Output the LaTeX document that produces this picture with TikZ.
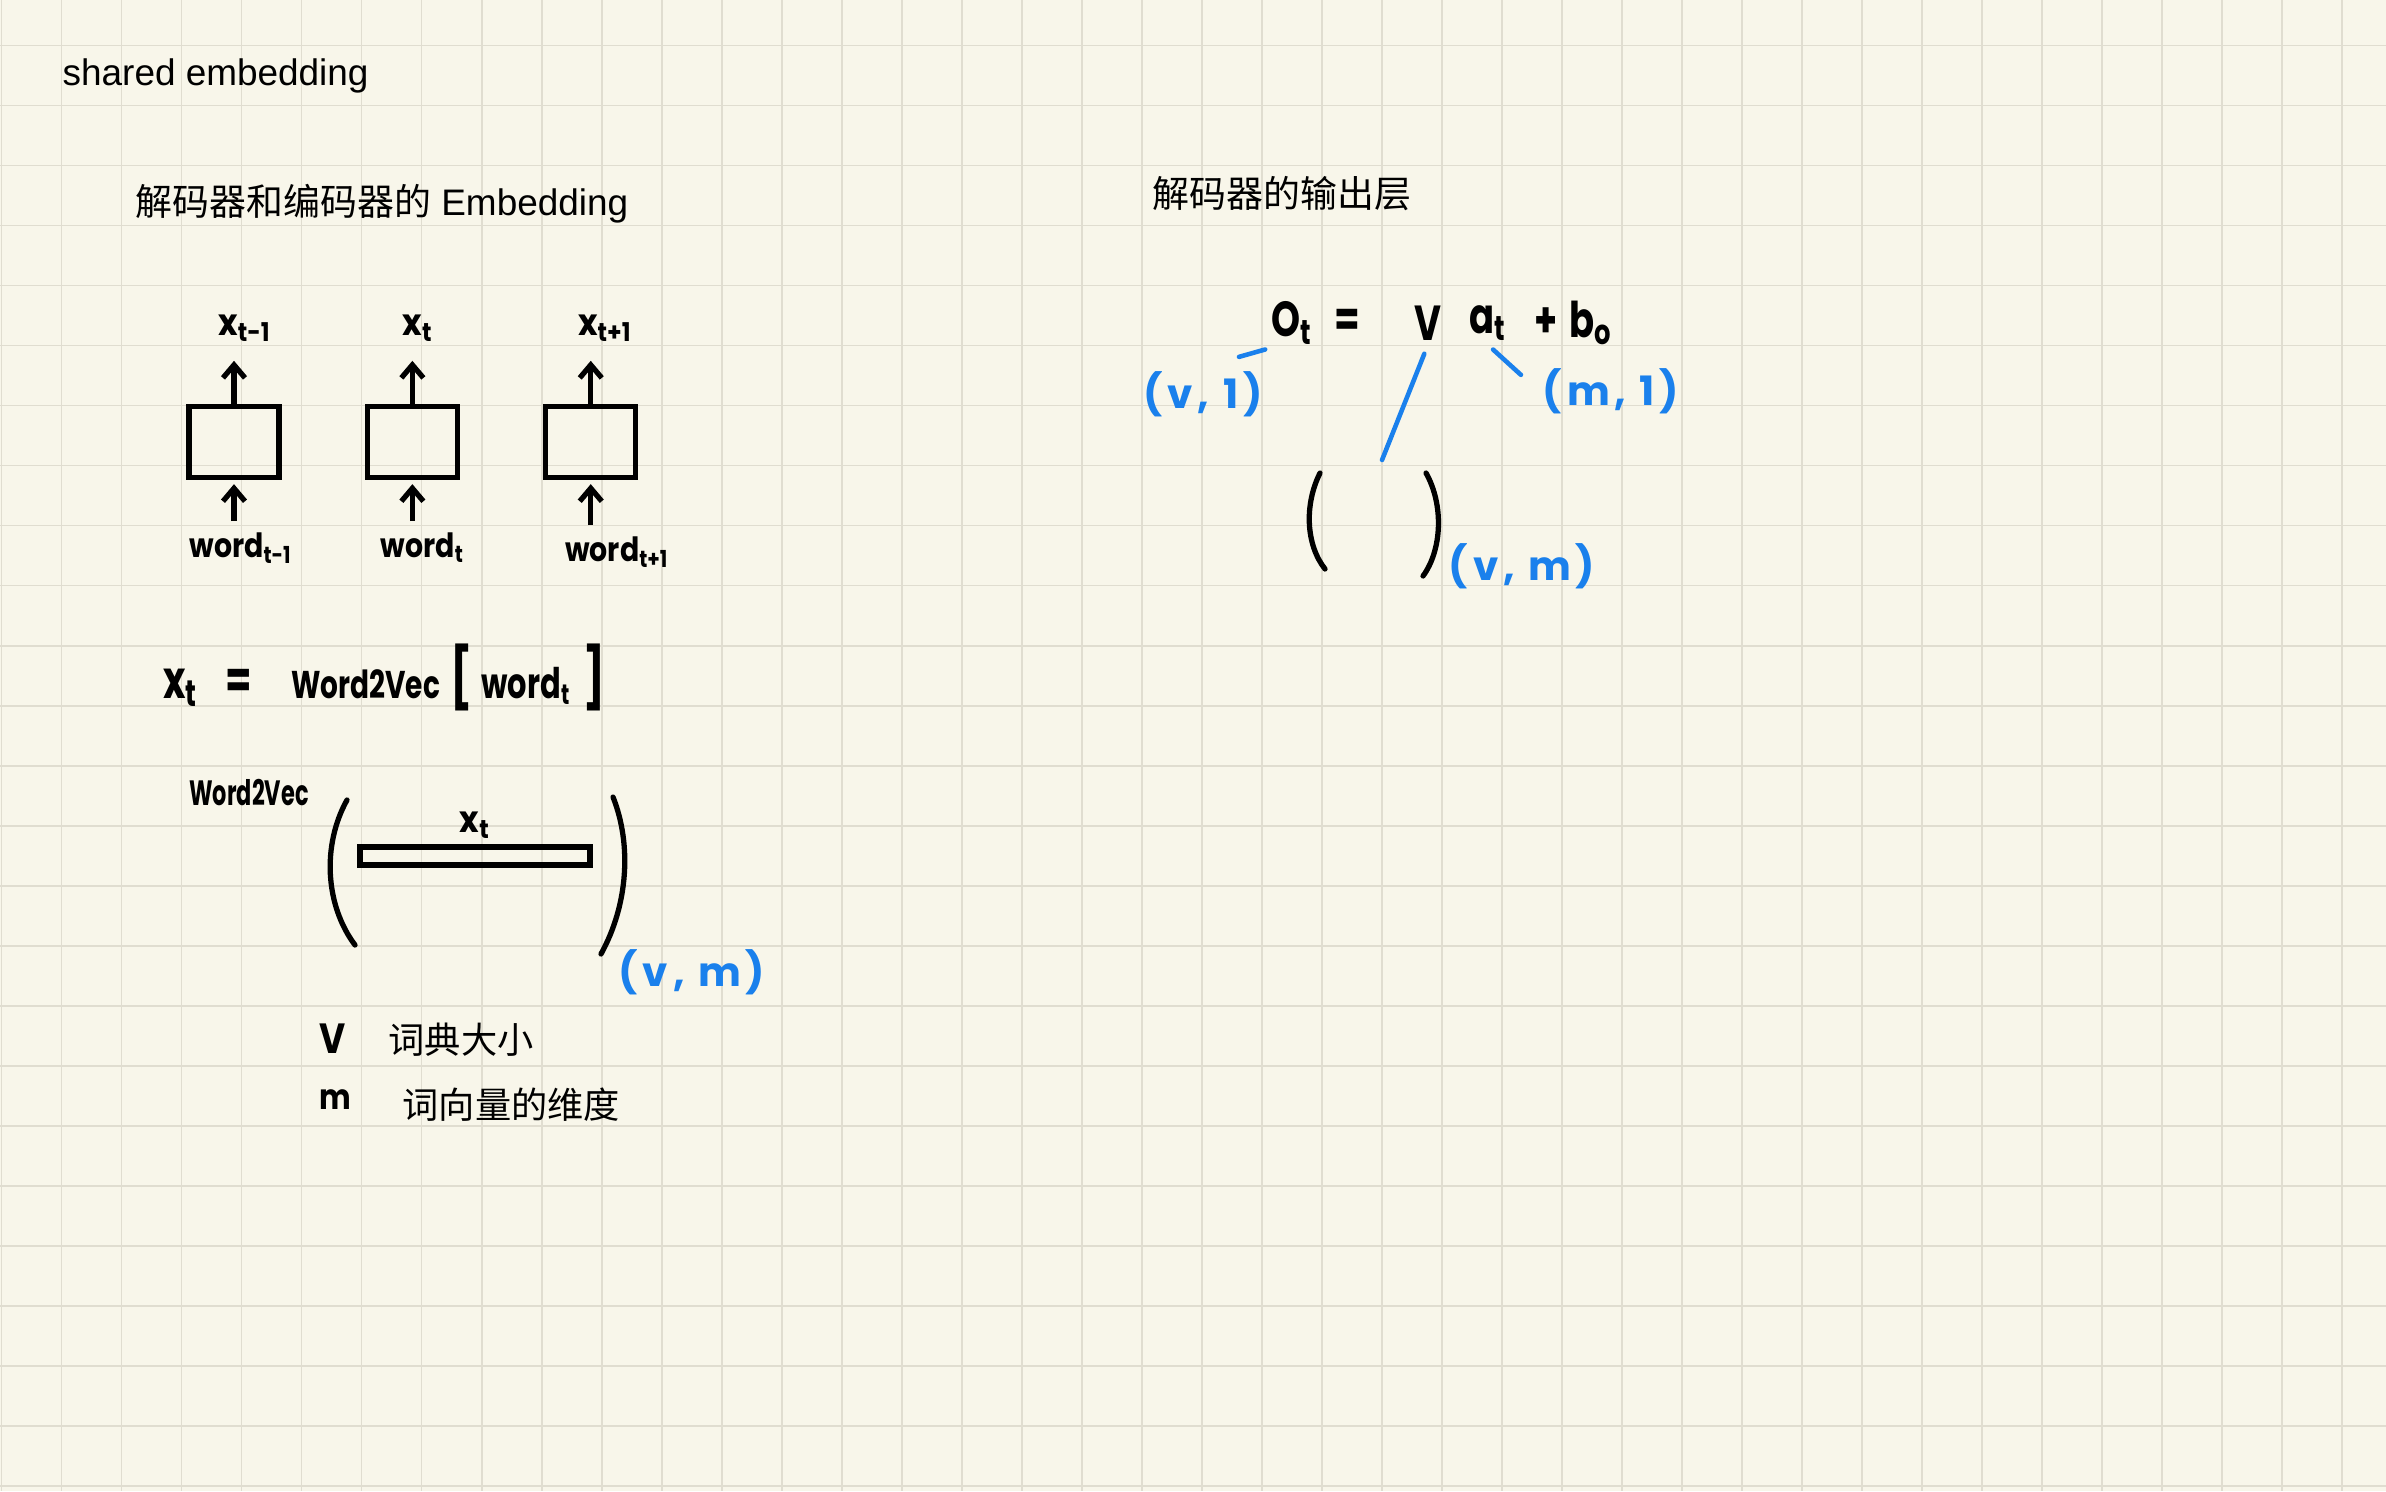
\documentclass[tikz,border=0pt]{standalone}
\usepackage{fontspec}
\setmainfont{Liberation Sans}
\newfontfamily\cjk{Noto Sans CJK SC}
\newfontfamily\handfont{Poppins}
\newfontfamily\dimfont{Poppins}[LetterSpace=12]
\usepackage{tikz}
\usetikzlibrary{positioning, calc, arrows.meta}
\definecolor{paper}{HTML}{F8F6EA}
\definecolor{gridline}{HTML}{E0DDD0}
\definecolor{inkblue}{HTML}{1A80EC}

\begin{document}
\begin{tikzpicture}[
  x=0.01cm, y=-0.01cm,
  node distance=0.5cm,
  cellbox/.style={draw, line width=1.5pt, minimum width=0.9cm, minimum height=0.71cm, inner sep=0pt},
  vecbox/.style={draw, line width=1.5pt, minimum width=2.3cm, minimum height=0.18cm, inner sep=0pt},
  heading/.style={anchor=west, inner sep=0pt, font=\fontsize{10.5}{13}\selectfont},
  note/.style={anchor=west, inner sep=0pt, font=\cjk\fontsize{10.3}{13}\selectfont},
  hand/.style={inner sep=1pt, font=\handfont\bfseries\fontsize{9.5}{11}\selectfont, xscale=0.85},
  xlabel/.style={inner sep=1pt, font=\handfont\bfseries\fontsize{10.5}{12}\selectfont, xscale=0.9},
  bighand/.style={inner sep=1pt, font=\handfont\bfseries\fontsize{14}{17}\selectfont, xscale=0.75},
  dim/.style={inner sep=1pt, text=inkblue, font=\dimfont\bfseries\fontsize{11.5}{13}\selectfont},
  arrow/.style={line width=1.5pt, -{Straight Barb[length=1.3mm, width=2.2mm]}},
  dimline/.style={inkblue, line width=1.3pt, line cap=round},
  paren/.style={line width=1.5pt, line cap=round},
]

  % Paper with grid
  \useasboundingbox (0,0) rectangle (2386,1491);
  \fill[paper] (0,0) rectangle (2386,1491);
  \foreach \k in {0,...,39} {
    \draw[gridline, line width=0.45pt] ({1.7+60*\k},0) -- ({1.7+60*\k},1491);
  }
  \foreach \k in {0,...,24} {
    \draw[gridline, line width=0.45pt] (0,{45.7+60*\k}) -- (2386,{45.7+60*\k});
  }

  % Headings
  \node (title) [heading] at (62,76) {shared embedding};
  \node (embtitle) [heading] at (135,204) {{\cjk 解码器和编码器的} Embedding};
  \node (outtitle) [heading] at (1152,194) {\cjk 解码器的输出层};

  % Embedding cells
  \node (box1) [cellbox] at (234,442) {};
  \node (box2) [cellbox, right=0.83cm of box1] {};
  \node (box3) [cellbox, right=0.83cm of box2] {};

  % Outputs above
  \node (xout1) [xlabel, above=0.58cm of box1, xshift=0.12cm] {x\textsubscript{t-1}};
  \node (xout2) [xlabel, above=0.58cm of box2, xshift=0.06cm] {x\textsubscript{t}};
  \node (xout3) [xlabel, above=0.58cm of box3, xshift=0.16cm] {x\textsubscript{t+1}};

  % Words below
  \node (word1) [hand, below=0.48cm of box1, xshift=0.08cm] {word\textsubscript{t-1}};
  \node (word2) [hand, below=0.48cm of box2, xshift=0.12cm] {word\textsubscript{t}};
  \node (word3) [hand, below=0.52cm of box3, xshift=0.31cm] {word\textsubscript{t+1}};

  \foreach \i in {1,2,3} {
    \draw [arrow] (box\i.north) -- ([yshift=-0.15cm]box\i.north |- xout\i.south);
    \draw [arrow] ([yshift=0.07cm]box\i.south |- word\i.north) -- ([yshift=-0.04cm]box\i.south);
  }

  % Lookup formula
  \node (lookup) [hand, anchor=west, font=\handfont\bfseries\fontsize{11}{13}\selectfont, xscale=0.85] at (160,677)
    {{\fontsize{15}{15}\selectfont x\textsubscript{t}}\hspace{0.38cm}{\fontsize{15}{15}\selectfont=}\hspace{0.55cm}Word2Vec\hspace{0.14cm}{\fontsize{17}{17}\selectfont[}\hspace{0.13cm}{\fontsize{12}{12}\selectfont word\textsubscript{t}}\hspace{0.18cm}{\fontsize{17}{17}\selectfont]}};

  % Embedding matrix
  \node (w2v) [hand, font=\handfont\bfseries\fontsize{10}{12}\selectfont, xscale=0.75] at (249,793) {Word2Vec};
  \node (vecbar) [vecbox] at (475,856) {};
  \node (xrow) [xlabel, above=0.02cm of vecbar] {x\textsubscript{t}};
  \draw[paren] (347,800) .. controls (322,845) and (325,905) .. (355,945);
  \draw[paren] (613,797) .. controls (632,845) and (628,905) .. (601,954);
  \node (embdim) [dim] at (692,972) {(v, m)};

  % Legend
  \node (legv) [hand, font=\handfont\bfseries\fontsize{12}{14}\selectfont] at (333,1039) {V};
  \node (legvtext) [note] at (388,1040) {词典大小};
  \node (legm) [hand, font=\handfont\bfseries\fontsize{10}{12}\selectfont] at (335,1100) {m};
  \node (legmtext) [note] at (402,1105) {词向量的维度};

  % Output layer formula
  \node (ot) [bighand] at (1292,323) {O\textsubscript{t}};
  \node (eqsign) [bighand] at (1347,323) {=};
  \node (vmat) [bighand] at (1428,323) {V};
  \node (at) [bighand] at (1488,323) {a\textsubscript{t}};
  \node (plus) [bighand] at (1546,323) {+};
  \node (bo) [bighand] at (1591,323) {b\textsubscript{o}};

  % Dimensions
  \node (dimo) [dim] at (1203,394) {(v, 1)};
  \node (dimm) [dim] at (1611,391) {(m, 1)};
  \node (dimv) [dim] at (1522,566) {(v, m)};
  \coordinate (vtip) at (1382,460);
  \draw[paren] (1320,473) .. controls (1304,505) and (1306,545) .. (1325,569);
  \draw[paren] (1426,473) .. controls (1444,505) and (1442,550) .. (1423,576);

  \draw[dimline] ($(ot.south west)!0.05!(dimo.north)$) -- ($(ot.south west)!0.45!(dimo.north)$);
  \draw[dimline, shorten <=0.1cm] (vmat.south) -- (vtip);
  \draw[dimline] ($(at.south)!0.1!(dimm.west)$) -- ($(at.south)!0.65!(dimm.west)$);

\end{tikzpicture}
\end{document}
